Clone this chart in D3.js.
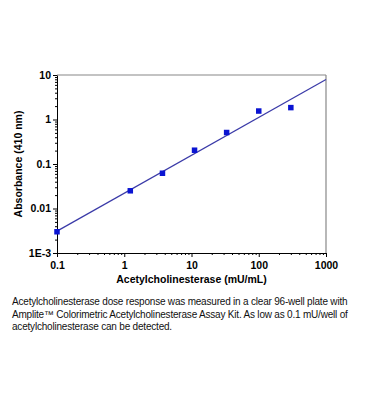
<!DOCTYPE html>
<html><head><meta charset="utf-8">
<script src="https://cdn.jsdelivr.net/npm/d3@7"></script>
<style>body{margin:0;background:#fff}svg{display:block}</style>
</head><body>
<script>
const concentrations = [0.1, 1.23, 3.7, 11.1, 33.3, 100, 300];
const absorbance = [0.003, 0.025, 0.062, 0.204, 0.51, 1.55, 1.85];
const fitX = [0.1, 1000];
const fitY = [0.0031, 7.9];
const xTickValues = [0.1, 1, 10, 100, 1000];
const xTickLabels = ["0.1", "1", "10", "100", "1000"];
const yTickValues = [0.001, 0.01, 0.1, 1, 10];
const yTickLabels = ["1E-3", "0.01", "0.1", "1", "10"];
const captionLines = [
  "Acetylcholinesterase dose response was measured in a clear 96-well plate with",
  "Amplite\u2122 Colorimetric Acetylcholinesterase Assay Kit. As low as 0.1 mU/well of",
  "acetylcholinesterase can be detected."
];

const W = 367, H = 420;
const L = 57, R = 326, T = 75, B = 253;
const svg = d3.select("body").append("svg").attr("width", W).attr("height", H);
const font = "'Liberation Sans', Arial, sans-serif";

const x = d3.scaleLog().domain([0.1, 1000]).range([L, R]);
const y = d3.scaleLog().domain([0.001, 10]).range([B, T]);

// frame top/right
svg.append("line").attr("x1", L).attr("x2", R).attr("y1", T).attr("y2", T).attr("stroke", "#888").attr("stroke-width", 1.2);
svg.append("line").attr("x1", R).attr("x2", R).attr("y1", T).attr("y2", B).attr("stroke", "#888").attr("stroke-width", 1.2);

function minorTicks(domain) {
  const out = [];
  for (let e = Math.log10(domain[0]); e < Math.log10(domain[1]); e++) {
    for (let k = 2; k <= 9; k++) out.push(k * Math.pow(10, e));
  }
  return out;
}

// x axis
const gx = svg.append("g").attr("transform", `translate(0,${B})`);
gx.call(d3.axisBottom(x).tickValues(minorTicks(x.domain())).tickSize(2).tickFormat(""));
gx.call(g => g.select(".domain").remove());
const gx2 = svg.append("g").attr("transform", `translate(0,${B})`);
gx2.call(d3.axisBottom(x).tickValues(xTickValues).tickSize(4).tickSizeOuter(0)
  .tickFormat((d, i) => xTickLabels[i]));
gx2.selectAll("text").attr("font-family", font).attr("font-weight", "bold").attr("font-size", "10.5px").attr("fill", "#000").attr("dy", "0.9em");
svg.selectAll(".domain, .tick line").attr("stroke", "#000");

// y axis
const gy = svg.append("g").attr("transform", `translate(${L},0)`);
gy.call(d3.axisLeft(y).tickValues(minorTicks(y.domain())).tickSize(2).tickFormat(""));
gy.call(g => g.select(".domain").remove());
const gy2 = svg.append("g").attr("transform", `translate(${L},0)`);
gy2.call(d3.axisLeft(y).tickValues(yTickValues).tickSize(4).tickSizeOuter(0)
  .tickFormat((d, i) => yTickLabels[i]));
gy2.selectAll("text").attr("font-family", font).attr("font-weight", "bold").attr("font-size", "10.5px").attr("fill", "#000").attr("x", -6);
svg.selectAll(".domain, .tick line").attr("stroke", "#000");

// fit line
svg.append("line")
  .attr("x1", x(fitX[0])).attr("y1", y(fitY[0]))
  .attr("x2", x(fitX[1])).attr("y2", y(fitY[1]))
  .attr("stroke", "#3a3aa8").attr("stroke-width", 1.2);

// points
const s = 5.5;
svg.selectAll("rect.pt").data(concentrations).enter().append("rect").attr("class", "pt")
  .attr("x", d => x(d) - s / 2).attr("y", (d, i) => y(absorbance[i]) - s / 2)
  .attr("width", s).attr("height", s).attr("fill", "#0a14d2");

// axis titles
svg.append("text").attr("x", (L + R) / 2).attr("y", 283).attr("text-anchor", "middle")
  .attr("font-family", font).attr("font-weight", "bold").attr("font-size", "10.5px").text("Acetylcholinesterase (mU/mL)");
svg.append("text").attr("transform", `translate(22,${(T + B) / 2}) rotate(-90)`).attr("text-anchor", "middle")
  .attr("font-family", font).attr("font-weight", "bold").attr("font-size", "10.5px").text("Absorbance (410 nm)");

// caption
captionLines.forEach((t, i) => {
  svg.append("text").attr("x", 12).attr("y", 305 + i * 12.5)
    .attr("font-family", font).attr("font-size", "10px").attr("letter-spacing", "-0.2px")
    .attr("fill", "#111").text(t);
});
</script>
</body></html>
